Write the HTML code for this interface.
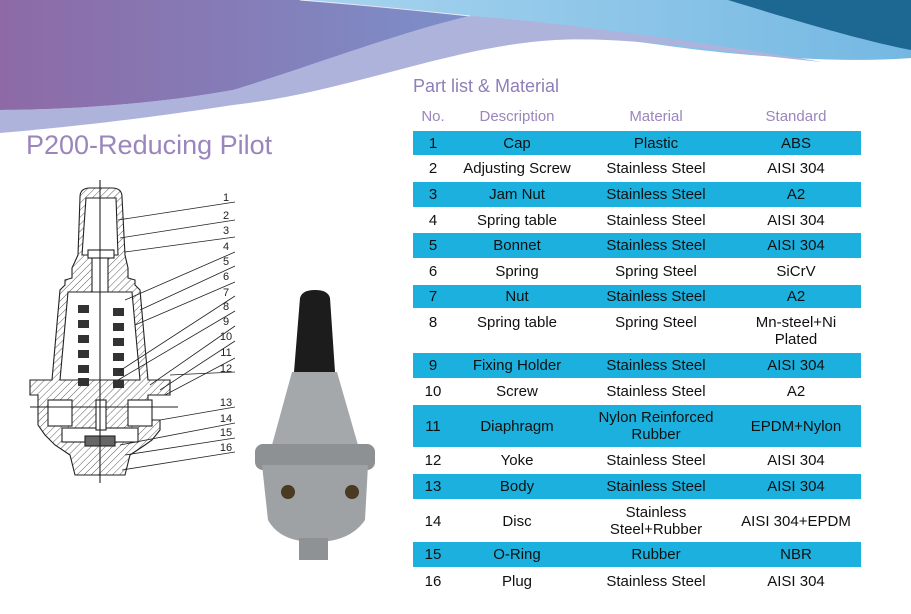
<!DOCTYPE html>
<html><head><meta charset="utf-8"><style>
body{margin:0;width:911px;height:614px;overflow:hidden;background:#fff;font-family:"Liberation Sans",sans-serif;position:relative}
.r{position:absolute;left:413px;width:448px;font-size:15px;color:#111}
.r.b{background:#1bb0de}
.c{position:absolute;top:0;bottom:0;display:flex;align-items:center;justify-content:center;text-align:center;line-height:17px}
.c1{left:0;width:40px}.c2{left:40px;width:128px}.c3{left:168px;width:150px}.c4{left:318px;width:130px}
.h{position:absolute;font-size:15px;color:#9a86bd}
</style></head><body>
<svg width="911" height="614" style="position:absolute;left:0;top:0">
<defs>
<linearGradient id="pg" x1="0" x2="1"><stop offset="0" stop-color="#8d6aa6"/><stop offset="1" stop-color="#7c8fc9"/></linearGradient>
<linearGradient id="lb" x1="0" x2="1"><stop offset="0" stop-color="#a8d4ef"/><stop offset="1" stop-color="#74b8e2"/></linearGradient>
<pattern id="ht" width="5" height="5" patternUnits="userSpaceOnUse" patternTransform="rotate(45)"><line x1="0" y1="0" x2="0" y2="5" stroke="#333" stroke-width="0.8"/></pattern>
</defs>
<path d="M300,0 L911,0 L911,58 C860,62 790,60 700,50 C620,40 560,30 455,15 C400,8 350,3 300,0 Z" fill="url(#lb)"/>
<path d="M728,0 L911,0 L911,50 C860,40 800,22 728,0 Z" fill="#1c6893"/>
<path d="M0,110 C60,110 150,105 233,90 C300,70 400,32 470,16 C560,22 700,42 822,62 C720,52 630,36 555,40 C450,46 350,92 233,105 C150,118 60,128 0,133 Z" fill="#aeb3dc"/>
<path d="M0,0 L300,0 C360,4 420,10 470,16 C400,32 300,70 233,90 C150,105 60,110 0,110 Z" fill="url(#pg)"/>
<path d="M300,0 C400,8 450,14 470,16" fill="none" stroke="#fff" stroke-width="1" opacity=".8"/>
<!-- cross section drawing -->
<g stroke="#222" stroke-width="1.1">
<path d="M80,197 Q80,188 90,188 L112,188 Q122,188 122,197 L125,255 L128,268 L128,278 L135,280 L135,285 L140,290 L148,380 L170,380 L170,395 L148,395 L148,420 L160,420 L160,430 L152,440 L145,445 L130,455 L125,475 L75,475 L70,455 L55,445 L45,435 L38,425 L38,395 L30,395 L30,380 L52,380 L60,290 L65,285 L65,280 L72,278 L72,268 L78,255 Z" fill="url(#ht)"/>
<path d="M86,198 L116,198 L118,255 L82,255 Z" fill="#fff"/>
<path d="M68,292 L132,292 L140,380 L60,380 Z" fill="#fff"/>
<path d="M92,258 L108,258 L108,292 L92,292 Z" fill="#fff"/>
<rect x="88" y="250" width="26" height="8" fill="#fff"/>
<rect x="48" y="400" width="24" height="26" fill="#fff"/>
<rect x="128" y="400" width="24" height="26" fill="#fff"/>
<rect x="62" y="428" width="76" height="14" fill="#fff"/>
<rect x="85" y="436" width="30" height="10" fill="#666"/>
<rect x="96" y="400" width="10" height="30" fill="#fff"/>
<line x1="100" y1="180" x2="100" y2="483" fill="none"/>
<line x1="30" y1="407" x2="178" y2="407"/>
</g>
<g fill="#333">
<rect x="78" y="305" width="11" height="8"/><rect x="78" y="320" width="11" height="8"/><rect x="78" y="335" width="11" height="8"/><rect x="78" y="350" width="11" height="8"/><rect x="78" y="365" width="11" height="8"/><rect x="78" y="378" width="11" height="8"/>
<rect x="113" y="308" width="11" height="8"/><rect x="113" y="323" width="11" height="8"/><rect x="113" y="338" width="11" height="8"/><rect x="113" y="353" width="11" height="8"/><rect x="113" y="368" width="11" height="8"/><rect x="113" y="380" width="11" height="8"/>
</g>
<g stroke="#222" stroke-width=".8">
<line x1="118" y1="220" x2="235" y2="202"/><line x1="120" y1="238" x2="235" y2="220"/><line x1="125" y1="252" x2="235" y2="237"/>
<line x1="125" y1="300" x2="235" y2="252"/><line x1="140" y1="310" x2="235" y2="266"/><line x1="135" y1="325" x2="235" y2="282"/>
<line x1="118" y1="372" x2="235" y2="296"/><line x1="118" y1="380" x2="235" y2="311"/><line x1="150" y1="385" x2="235" y2="326"/>
<line x1="160" y1="390" x2="235" y2="341"/><line x1="165" y1="395" x2="235" y2="358"/><line x1="170" y1="375" x2="235" y2="372"/>
<line x1="160" y1="420" x2="235" y2="407"/><line x1="120" y1="445" x2="235" y2="423"/><line x1="125" y1="455" x2="235" y2="438"/><line x1="122" y1="470" x2="235" y2="452"/>
</g>
<g font-size="11" fill="#222" font-family="Liberation Sans" text-anchor="middle">
<text x="226" y="201">1</text><text x="226" y="219">2</text><text x="226" y="234">3</text><text x="226" y="250">4</text><text x="226" y="265">5</text><text x="226" y="280">6</text><text x="226" y="296">7</text><text x="226" y="310">8</text><text x="226" y="325">9</text><text x="226" y="340">10</text><text x="226" y="356">11</text><text x="226" y="372">12</text><text x="226" y="406">13</text><text x="226" y="422">14</text><text x="226" y="436">15</text><text x="226" y="451">16</text>
</g>
<!-- photo -->
<path d="M300,298 Q302,290 315,290 Q328,290 330,298 L335,372 L294,372 Z" fill="#1c1c1c"/>
<path d="M292,372 L337,372 L358,445 L272,445 Z" fill="#a4a8ab"/>
<rect x="255" y="444" width="120" height="26" rx="8" fill="#8d9194"/>
<path d="M262,465 L368,465 L365,520 Q350,542 315,542 Q280,542 268,520 Z" fill="#9ea2a5"/>
<rect x="299" y="538" width="29" height="22" fill="#8e9295"/>
<circle cx="288" cy="492" r="7" fill="#4a3a22"/><circle cx="352" cy="492" r="7" fill="#4a3a22"/>
</svg>
<div style="position:absolute;left:26px;top:130px;font-size:27px;color:#9a86bd">P200-Reducing Pilot</div>
<div style="position:absolute;left:413px;top:76px;font-size:18px;color:#8f7fb8">Part list &amp; Material</div>
<div class="h" style="left:413px;width:40px;top:108px;text-align:center">No.</div>
<div class="h" style="left:453px;width:128px;top:108px;text-align:center">Description</div>
<div class="h" style="left:581px;width:150px;top:108px;text-align:center">Material</div>
<div class="h" style="left:731px;width:130px;top:108px;text-align:center">Standard</div>
<div class="r b" style="top:131px;height:24px"><div class="c c1">1</div><div class="c c2">Cap</div><div class="c c3">Plastic</div><div class="c c4">ABS</div></div>
<div class="r" style="top:156px;height:25px"><div class="c c1">2</div><div class="c c2">Adjusting Screw</div><div class="c c3">Stainless Steel</div><div class="c c4">AISI 304</div></div>
<div class="r b" style="top:182px;height:25px"><div class="c c1">3</div><div class="c c2">Jam Nut</div><div class="c c3">Stainless Steel</div><div class="c c4">A2</div></div>
<div class="r" style="top:208px;height:24px"><div class="c c1">4</div><div class="c c2">Spring table</div><div class="c c3">Stainless Steel</div><div class="c c4">AISI 304</div></div>
<div class="r b" style="top:233px;height:25px"><div class="c c1">5</div><div class="c c2">Bonnet</div><div class="c c3">Stainless Steel</div><div class="c c4">AISI 304</div></div>
<div class="r" style="top:259px;height:25px"><div class="c c1">6</div><div class="c c2">Spring</div><div class="c c3">Spring Steel</div><div class="c c4">SiCrV</div></div>
<div class="r b" style="top:285px;height:23px"><div class="c c1">7</div><div class="c c2">Nut</div><div class="c c3">Stainless Steel</div><div class="c c4">A2</div></div>
<div class="r" style="top:309px;height:44px"><div class="c c1" style="align-items:flex-start;padding-top:5px">8</div><div class="c c2" style="align-items:flex-start;padding-top:5px">Spring table</div><div class="c c3" style="align-items:flex-start;padding-top:5px">Spring Steel</div><div class="c c4">Mn-steel+Ni<br>Plated</div></div>
<div class="r b" style="top:353px;height:25px"><div class="c c1">9</div><div class="c c2">Fixing Holder</div><div class="c c3">Stainless Steel</div><div class="c c4">AISI 304</div></div>
<div class="r" style="top:379px;height:25px"><div class="c c1">10</div><div class="c c2">Screw</div><div class="c c3">Stainless Steel</div><div class="c c4">A2</div></div>
<div class="r b" style="top:405px;height:42px"><div class="c c1">11</div><div class="c c2">Diaphragm</div><div class="c c3">Nylon Reinforced<br>Rubber</div><div class="c c4">EPDM+Nylon</div></div>
<div class="r" style="top:448px;height:25px"><div class="c c1">12</div><div class="c c2">Yoke</div><div class="c c3">Stainless Steel</div><div class="c c4">AISI 304</div></div>
<div class="r b" style="top:474px;height:25px"><div class="c c1">13</div><div class="c c2">Body</div><div class="c c3">Stainless Steel</div><div class="c c4">AISI 304</div></div>
<div class="r" style="top:500px;height:42px"><div class="c c1">14</div><div class="c c2">Disc</div><div class="c c3">Stainless<br>Steel+Rubber</div><div class="c c4">AISI 304+EPDM</div></div>
<div class="r b" style="top:542px;height:25px"><div class="c c1">15</div><div class="c c2">O-Ring</div><div class="c c3">Rubber</div><div class="c c4">NBR</div></div>
<div class="r" style="top:568px;height:26px"><div class="c c1">16</div><div class="c c2">Plug</div><div class="c c3">Stainless Steel</div><div class="c c4">AISI 304</div></div>
</body></html>
